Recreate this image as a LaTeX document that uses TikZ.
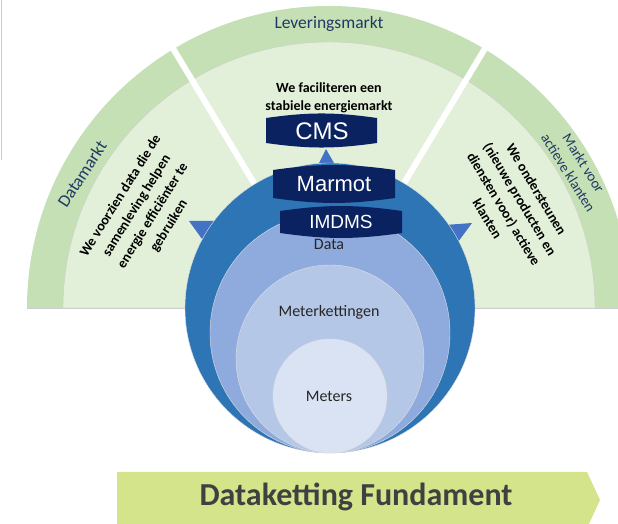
\documentclass[tikz,border=0pt]{standalone}
\usepackage{fontspec}
\setmainfont{Carlito}
\newfontfamily\dbfont{Liberation Sans}
\definecolor{bandgreen}{HTML}{C5E0B4}
\definecolor{fieldgreen}{HTML}{E2F0D9}
\definecolor{labelblue}{HTML}{203864}
\definecolor{ringA}{HTML}{2E75B6}
\definecolor{ringB}{HTML}{8FAADC}
\definecolor{ringC}{HTML}{B4C7E7}
\definecolor{ringD}{HTML}{DAE3F3}
\definecolor{dbnavy}{HTML}{0B2260}
\definecolor{tipblue}{HTML}{4472C4}
\definecolor{bannergreen}{HTML}{D3E48B}
\definecolor{bannertext}{HTML}{404040}
\begin{document}
\begin{tikzpicture}[x=1pt,y=1pt,
    market/.style={text=labelblue,font=\fontsize{17.5}{19}\selectfont},
    claim/.style={align=center,font=\bfseries\fontsize{14}{19}\selectfont},
    layer/.style={text=black!85,font=\fontsize{16}{18}\selectfont},
    dbtext/.style={text=white,font=\dbfont\fontsize{#1}{#1}\selectfont},
    tip/.style={fill=tipblue}]
    \clip (0,0) rectangle (618,524);
    \draw[black!20,line width=1pt] (1,524) -- (1,364);

    % de drie markten
    \fill[bandgreen] (27,216) arc (180:0:302) -- cycle;
    \filldraw[fill=fieldgreen,draw=black!20] (63,216) arc (180:0:266) -- cycle;
    \draw[black!20] (27,216) -- (618,216);
    \foreach \a in {59,121}
    \draw[white,line width=6pt] (329,216) -- ++(\a:320);

    \fill[tip] (189,303) -- (216,303) -- (202,285) -- cycle;
    \fill[tip] (445,299) -- (472,301) -- (458,282) -- cycle;
    \fill[tip] (319,361) -- (334,361) -- (326,375) -- cycle;

    % lagen van de dataketen
    \foreach \y/\r/\c in {216/145/ringA, 191/120/ringB, 165/94/ringC, 128/57/ringD}
    \filldraw[fill=\c,draw=black!12] (330,\y) circle (\r);

    \node[market] (levering) at (329,500) {Leveringsmarkt};
    \node[market,rotate=57] (datamarkt) at (82,350) {Datamarkt};
    \node[market,rotate=-58,align=center,font=\fontsize{14.5}{18}\selectfont] (actief) at (576,356) {Markt voor\\actieve klanten};

    \node[claim,rotate=58] (claimdata) at (145,313) {We voorzien data die de\\samenleving helpen\\energie efficiënter te\\gebruiken};
    \node[claim,rotate=-59] (claimklant) at (512,320) {We ondersteunen\\(nieuwe producten en\\diensten voor) actieve\\klanten};
    \node[claim,font=\bfseries\fontsize{14}{18}\selectfont] (claimmarkt) at (329,426) {We faciliteren een\\stabiele energiemarkt};

    \node[layer] (data) at (329,280) {Data};
    \node[layer] (keten) at (329,212) {Meterkettingen};
    \node[layer] (meters) at (329,128) {Meters};

    % systemen
    \fill[dbnavy] (266,406) to[bend left=8] (377,406) -- (377,381) to[bend left=8] (266,381) -- cycle;
    \fill[dbnavy] (273,354) to[bend left=8] (395,354) -- (395,326) to[bend left=8] (273,326) -- cycle;
    \fill[dbnavy] (280,313) to[bend left=8] (402,313) -- (402,291) to[bend left=8] (280,291) -- cycle;
    \node[dbtext=24] (cms) at (322,393) {CMS};
    \node[dbtext=22] (marmot) at (334,340) {Marmot};
    \node[dbtext=19] (imdms) at (341,302) {IMDMS};

    % fundament
    \fill[bannergreen] (117,52) -- (587,52) -- (600,24) -- (587,-4) -- (117,-4) -- cycle;
    \node[text=bannertext,font=\bfseries\fontsize{32}{32}\selectfont] (fundament) at (356,27) {Dataketting Fundament};
\end{tikzpicture}
\end{document}
